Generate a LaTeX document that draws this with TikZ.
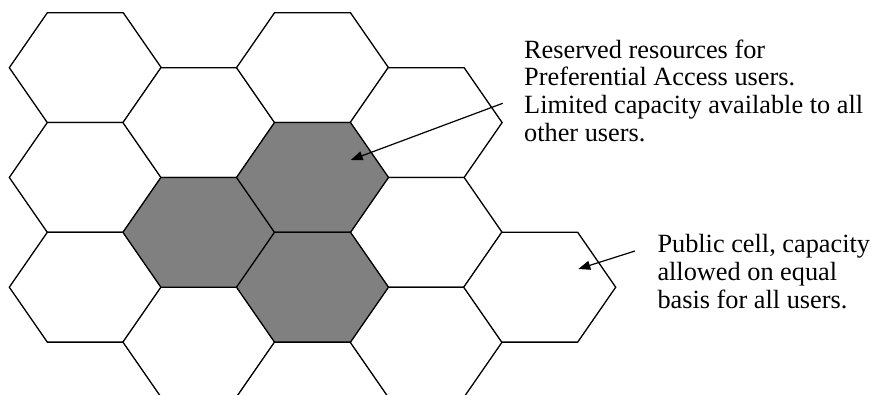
\documentclass[tikz,border=0pt]{standalone}
\usepackage{fontspec}
\setmainfont{Liberation Serif}
\usetikzlibrary{arrows.meta}

\begin{document}
\begin{tikzpicture}[x=1pt, y=1pt,
    cell/.style={draw=black, line width=1.3pt, line join=miter},
    note/.style={anchor=north west, inner sep=0pt, align=left, font=\fontsize{26.3}{27.8}\selectfont},
    pointer/.style={line width=1.2pt, -{Triangle[length=12pt, width=9pt]}}]
  \useasboundingbox (0,0) rectangle (872,394);
  \begin{scope}
    \clip (0,0) rectangle (872,394);
    % column/row/fill, rows are half a cell apart
    \foreach \c/\r/\f in {0/0/white, 0/2/white, 0/4/white, 1/1/white, 1/5/white,
                          2/0/white, 2/6/white, 3/1/white, 3/3/white, 3/5/white, 4/4/white,
                          1/3/gray, 2/2/gray, 2/4/gray}
      \draw[cell, fill=\f, shift={({85.3+113.6*\c},{326.3-54.875*\r})}]
        (-76,0) -- (-38,54.9) -- (38,54.9) -- (76,0) -- (38,-54.9) -- (-38,-54.9) -- cycle;
  \end{scope}

  \node[note] (reserved) at (524,354.7) {Reserved resources for\\Preferential Access users.\\Limited capacity available to all\\other users.};
  \node[note] (public) at (657.3,159.7) {Public cell, capacity\\allowed on equal\\basis for all users.};

  \coordinate (reserved-tail) at (502.7,290.7);
  \coordinate (reserved-tip) at (350.7,234);
  \coordinate (public-tail) at (635,143);
  \coordinate (public-tip) at (578.3,125);
  \draw[pointer] (reserved-tail) -- (reserved-tip);
  \draw[pointer] (public-tail) -- (public-tip);
\end{tikzpicture}
\end{document}
